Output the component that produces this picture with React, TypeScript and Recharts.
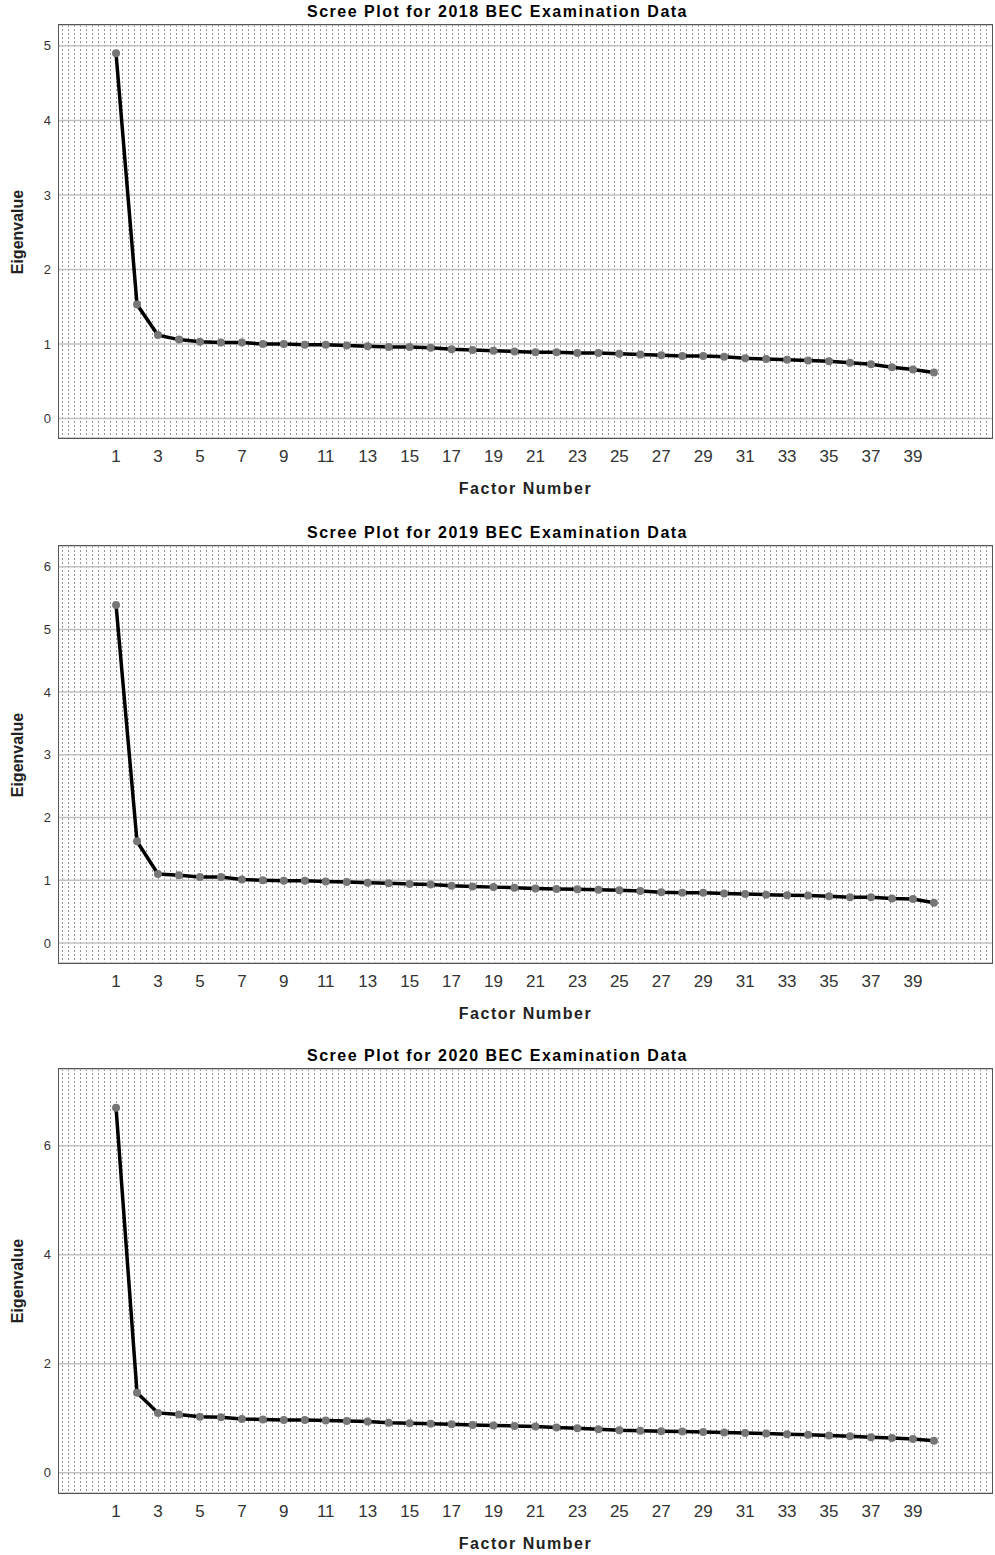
import React from "react";
import { LineChart, Line, XAxis, YAxis, CartesianGrid } from "recharts";

// ---- Data ------------------------------------------------------------------
const FACTORS = [
  1, 2, 3, 4, 5, 6, 7, 8, 9, 10, 11, 12, 13, 14, 15, 16, 17, 18, 19, 20,
  21, 22, 23, 24, 25, 26, 27, 28, 29, 30, 31, 32, 33, 34, 35, 36, 37, 38, 39, 40,
];

const X_TICKS = [1, 3, 5, 7, 9, 11, 13, 15, 17, 19, 21, 23, 25, 27, 29, 31, 33, 35, 37, 39];

const EIGEN_2018 = [
  4.9, 1.53, 1.12, 1.06, 1.03, 1.02, 1.02, 1.0, 1.0, 0.99, 0.99, 0.98, 0.97, 0.96, 0.96,
  0.95, 0.93, 0.92, 0.91, 0.9, 0.89, 0.89, 0.88, 0.88, 0.87, 0.86, 0.85, 0.84, 0.84, 0.83,
  0.81, 0.8, 0.79, 0.78, 0.77, 0.75, 0.73, 0.69, 0.66, 0.62,
];

const EIGEN_2019 = [
  5.39, 1.62, 1.1, 1.08, 1.05, 1.05, 1.01, 1.0, 0.99, 0.99, 0.98, 0.97, 0.96, 0.95, 0.94,
  0.93, 0.91, 0.9, 0.89, 0.88, 0.87, 0.86, 0.855, 0.85, 0.84, 0.83, 0.81, 0.8, 0.8, 0.79,
  0.78, 0.77, 0.76, 0.755, 0.745, 0.73, 0.73, 0.71, 0.7, 0.64,
];

const EIGEN_2020 = [
  6.7, 1.47, 1.1, 1.07, 1.03, 1.02, 0.99, 0.98, 0.97, 0.97, 0.96, 0.95, 0.94, 0.92, 0.91,
  0.9, 0.89, 0.88, 0.87, 0.86, 0.85, 0.83, 0.82, 0.8, 0.78, 0.77, 0.765, 0.76, 0.75, 0.74,
  0.73, 0.72, 0.71, 0.7, 0.685, 0.67, 0.655, 0.64, 0.62, 0.59,
];

const X_DOMAIN: [number, number] = [-1.72, 42.77];

const FONT = "'Liberation Sans', Arial, Helvetica, sans-serif";

// ---- One scree panel ---------------------------------------------------------
type PanelProps = {
  id: string;
  title: string;
  values: number[];
  yDomain: [number, number];
  yTicks: number[];
  plotTop: number;
  plotBottom: number;
};

const PLOT_LEFT = 59;
const PLOT_RIGHT = 992;

const ScreePanel: React.FC<PanelProps> = ({ id, title, values, yDomain, yTicks, plotTop, plotBottom }) => {
  const svgTop = plotTop - 25;
  const height = plotBottom - plotTop + 25 + 60;
  const data = FACTORS.map((f, i) => ({ factor: f, value: values[i] }));
  const midY = (plotTop + plotBottom) / 2;

  return (
    <>
      {/* title, centred on the whole figure */}
      <div
        style={{
          position: "absolute",
          left: 0,
          width: 995,
          top: plotTop - 23,
          textAlign: "center",
          fontWeight: "bold",
          fontSize: 16,
          lineHeight: "20px",
          letterSpacing: 1.5,
          color: "#000",
        }}
      >
        {title}
      </div>

      <div style={{ position: "absolute", left: 0, top: svgTop }}>
        <LineChart width={995} height={height} data={data} margin={{ top: 25, right: 3, bottom: 30, left: 19 }}>
          <defs>
            <pattern id={id} x={0} y={0} width={6} height={4} patternUnits="userSpaceOnUse">
              <rect x={2} y={1} width={1} height={2} fill="#949494" />
            </pattern>
          </defs>
          <CartesianGrid vertical={false} fill={`url(#${id})`} fillOpacity={1} stroke="#c2c2c2" strokeWidth={1.5} />
          <XAxis
            dataKey="factor"
            type="number"
            domain={X_DOMAIN}
            ticks={X_TICKS}
            allowDataOverflow
            interval={0}
            axisLine={false}
            tickLine={false}
            height={30}
            tickMargin={6}
            tick={{ fontSize: 17, fill: "#333" }}
          />
          <YAxis
            type="number"
            domain={yDomain}
            ticks={yTicks}
            allowDataOverflow
            interval={0}
            width={40}
            axisLine={false}
            tickLine={false}
            tick={{ fontSize: 13, fill: "#333" }}
          />
          <Line
            type="linear"
            dataKey="value"
            stroke="#000"
            strokeWidth={3.5}
            dot={{ r: 4, fill: "#767676", stroke: "none" }}
            isAnimationActive={false}
          />
        </LineChart>
      </div>

      {/* plot frame */}
      <div
        style={{
          position: "absolute",
          left: PLOT_LEFT - 1,
          top: plotTop - 1,
          width: PLOT_RIGHT - PLOT_LEFT,
          height: plotBottom - plotTop,
          border: "1.5px solid #555",
          pointerEvents: "none",
        }}
      />

      {/* axis titles */}
      <div
        style={{
          position: "absolute",
          left: 18,
          top: midY,
          transform: "translate(-50%, -50%) rotate(-90deg)",
          whiteSpace: "nowrap",
          fontWeight: "bold",
          fontSize: 16,
          color: "#222",
        }}
      >
        Eigenvalue
      </div>
      <div
        style={{
          position: "absolute",
          left: PLOT_LEFT,
          width: PLOT_RIGHT - PLOT_LEFT,
          top: plotBottom + 41,
          textAlign: "center",
          fontWeight: "bold",
          fontSize: 16,
          lineHeight: "20px",
          letterSpacing: 1.5,
          color: "#222",
        }}
      >
        Factor Number
      </div>
    </>
  );
};

const App: React.FC = () => (
  <div style={{ position: "absolute", left: 0, top: 0, width: 995, height: 1555, fontFamily: FONT, background: "#fff" }}>
    <ScreePanel
      id="dots2018"
      title="Scree Plot for 2018 BEC Examination Data"
      values={EIGEN_2018}
      yDomain={[-0.26, 5.28]}
      yTicks={[0, 1, 2, 3, 4, 5]}
      plotTop={25}
      plotBottom={438}
    />
    <ScreePanel
      id="dots2019"
      title="Scree Plot for 2019 BEC Examination Data"
      values={EIGEN_2019}
      yDomain={[-0.32, 6.33]}
      yTicks={[0, 1, 2, 3, 4, 5, 6]}
      plotTop={546}
      plotBottom={963}
    />
    <ScreePanel
      id="dots2020"
      title="Scree Plot for 2020 BEC Examination Data"
      values={EIGEN_2020}
      yDomain={[-0.37, 7.41]}
      yTicks={[0, 2, 4, 6]}
      plotTop={1069}
      plotBottom={1493}
    />
  </div>
);

export default App;
